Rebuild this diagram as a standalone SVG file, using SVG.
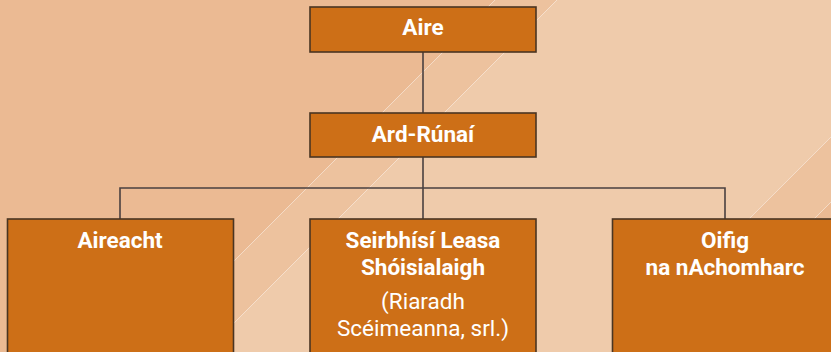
<svg xmlns="http://www.w3.org/2000/svg" width="831" height="352" viewBox="0 0 831 352">
<style>
.box{fill:#CD6F17;stroke:#4A3522;stroke-width:1.6}
.conn{fill:none;stroke:#4A4040;stroke-width:1.6}
.t{font-family:Roboto,"Liberation Sans",sans-serif;font-size:22.5px;fill:#FFFFFF;text-anchor:middle}
.b{font-weight:700}
.sheen{stroke:#FFFFFF;stroke-opacity:0.45;stroke-width:1;fill:none}
</style>
<g id="background">
<rect x="0" y="0" width="831" height="352" fill="#EBBA93"/>
<polygon points="495,0 557,0 205,352 143,352" fill="#EDC29E"/>
<polygon points="557,0 831,0 831,137 616,352 205,352" fill="#EFCBAB"/>
<polygon points="831,137 831,202 681,352 616,352" fill="#EDC29E"/>
<line class="sheen" x1="495" y1="0" x2="143" y2="352"/>
<line class="sheen" x1="557" y1="0" x2="205" y2="352"/>
<line class="sheen" x1="831" y1="137" x2="616" y2="352"/>
<line class="sheen" x1="831" y1="202" x2="681" y2="352"/>
</g>
<g id="connectors">
<line class="conn" x1="423" y1="52" x2="423" y2="113"/>
<line class="conn" x1="423" y1="157" x2="423" y2="219"/>
<polyline class="conn" points="120,219 120,188 725,188 725,219"/>
</g>
<g id="node-aire">
<rect class="box" x="310" y="7" width="226" height="45"/>
<text class="t b" x="423" y="35">Aire</text>
</g>
<g id="node-ard-runai">
<rect class="box" x="310" y="113" width="226" height="44"/>
<text class="t b" x="423" y="142">Ard-Rúnaí</text>
</g>
<g id="node-aireacht">
<rect class="box" x="7.5" y="219" width="226" height="140"/>
<text class="t b" x="120" y="248">Aireacht</text>
</g>
<g id="node-seirbhisi">
<rect class="box" x="310" y="219" width="226" height="140"/>
<text class="t b" x="423" y="248">Seirbhísí Leasa</text>
<text class="t b" x="423" y="275">Shóisialaigh</text>
<text class="t" x="423" y="309">(Riaradh</text>
<text class="t" x="423" y="336">Scéimeanna, srl.)</text>
</g>
<g id="node-oifig">
<rect class="box" x="612.5" y="219" width="226" height="140"/>
<text class="t b" x="725" y="248">Oifig</text>
<text class="t b" x="725" y="275">na nAchomharc</text>
</g>
</svg>
